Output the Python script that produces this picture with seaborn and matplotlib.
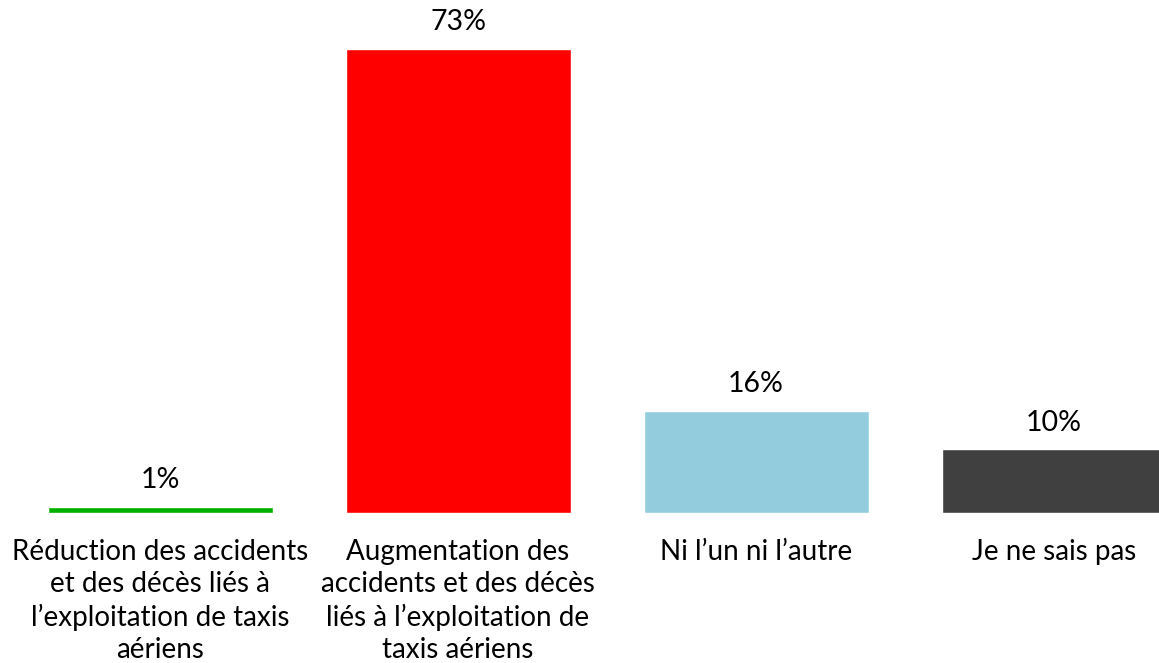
import matplotlib
matplotlib.use("Agg")
import matplotlib.pyplot as plt
import seaborn as sns
import pandas as pd

categories = [
    "Réduction des accidents\net des décès liés à\nl’exploitation de taxis\naériens",
    "Augmentation des\naccidents et des décès\nliés à l’exploitation de\ntaxis aériens",
    "Ni l’un ni l’autre",
    "Je ne sais pas",
]
values = [1, 73, 16, 10]
value_labels = ["1%", "73%", "16%", "10%"]
colors = ["#00B000", "#FF0000", "#93CDDD", "#404040"]

sns.set_theme(style="white")
plt.rcParams["font.family"] = ["Lato", "DejaVu Sans"]

df = pd.DataFrame({"cat": categories, "val": values})

fig = plt.figure(figsize=(11.59, 6.63), dpi=100)
ax = fig.add_axes([0, 0.2262, 1, 0.7738])
sns.barplot(data=df, x="cat", y="val", hue="cat", palette=colors,
            width=0.755, legend=False, ax=ax, saturation=1)

ax.set_xlim(-0.537, 3.352)
ax.set_ylim(0, 80.7)
for s in ax.spines.values():
    s.set_visible(False)
ax.set_yticks([])
ax.set_xlabel("")
ax.set_ylabel("")
ax.tick_params(axis="x", length=0, pad=19, labelsize=20, colors="black")
for t in ax.get_xticklabels():
    t.set_linespacing(1.28)
    t.set_verticalalignment("top")

for i, (v, lab) in enumerate(zip(values, value_labels)):
    ax.annotate(lab, xy=(i, v), xytext=(0, 10), textcoords="offset points",
                ha="center", va="bottom", fontsize=20.5, color="black")

fig.savefig("out.png", dpi=100)
